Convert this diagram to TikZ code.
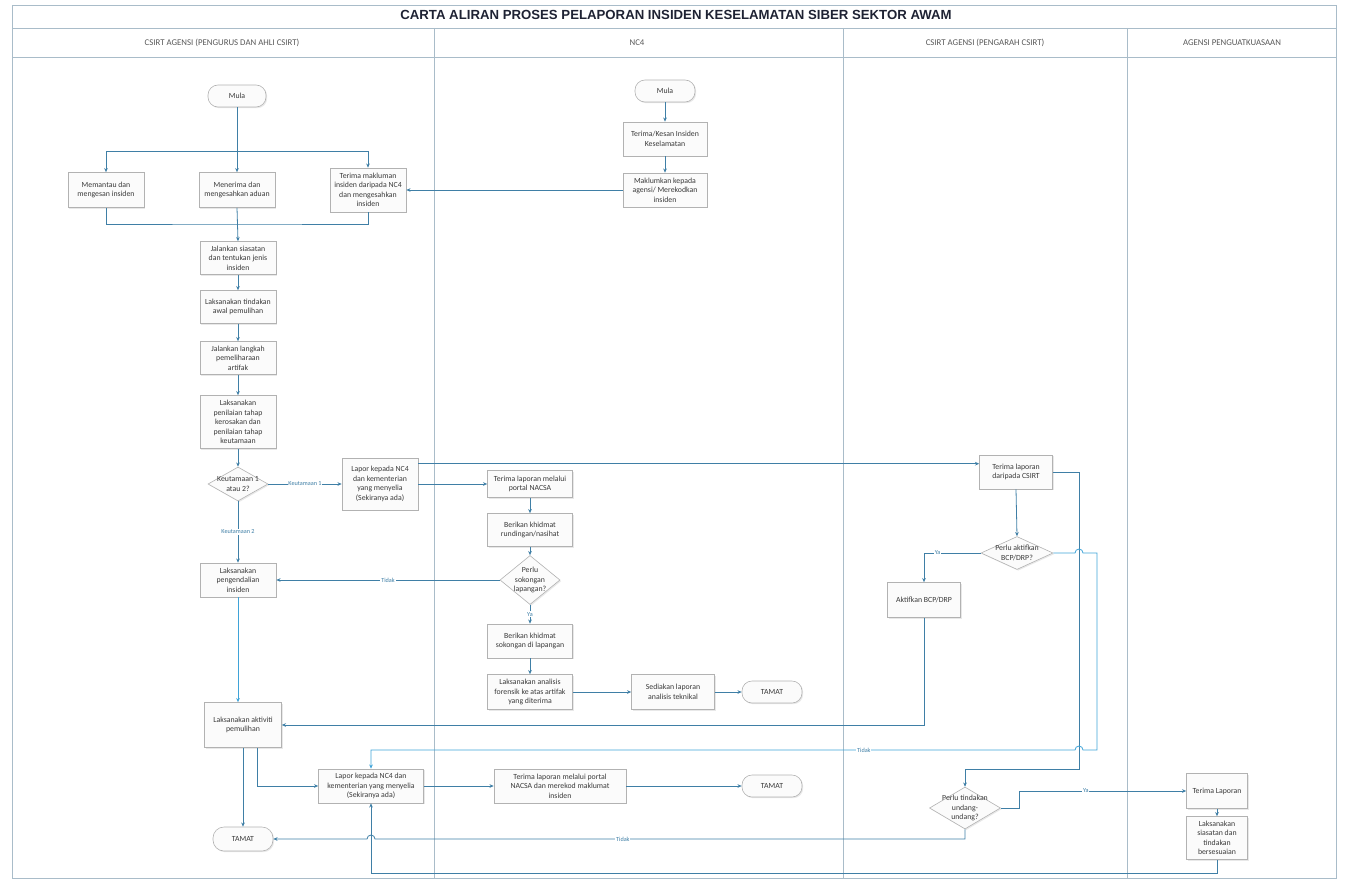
\documentclass[tikz,border=0pt]{standalone}
\usepackage{fontspec}
\setmainfont{Carlito}
\setsansfont{Carlito}
\newfontfamily\titlefont{Liberation Sans}
\usepackage{xcolor}
\definecolor{flow}{HTML}{3F7FA6}
\definecolor{flowcyan}{HTML}{3FA3D8}
\definecolor{boxline}{HTML}{B2B2B2}
\definecolor{boxfill}{HTML}{FBFBFB}
\definecolor{lane}{HTML}{A9BCC9}
\definecolor{ink}{HTML}{3A3A3A}
\definecolor{titleink}{HTML}{1E2233}
\usetikzlibrary{shapes.geometric, arrows.meta, positioning, calc, shadows}

\begin{document}
\begin{tikzpicture}[
    x=1pt, y=-1pt,
    font=\sffamily\fontsize{7.8}{9.4}\selectfont,
    >={Stealth[length=4.2pt, width=3.6pt]},
    text=ink,
    box/.style={draw=boxline, fill=boxfill, align=center, inner sep=1pt, line width=0.6pt, drop shadow={opacity=0.18, shadow xshift=1.2pt, shadow yshift=-1.2pt}},
    term/.style={box, rounded corners=10pt},
    dec/.style={diamond, draw=boxline, fill=boxfill, inner sep=0pt, line width=0.6pt, drop shadow={opacity=0.18, shadow xshift=1.2pt, shadow yshift=-1.2pt}},
    dectext/.style={align=center, inner sep=0pt},
    flowline/.style={draw=flow, line width=0.8pt},
    tag/.style={font=\sffamily\fontsize{6.2}{7}\selectfont, text=flow, fill=white, inner sep=0.8pt},
    lanehead/.style={font=\sffamily\fontsize{8.8}{10}\selectfont, text=ink!85},
]
\useasboundingbox (0,0) rectangle (1346,883);

\draw[lane, line width=0.6pt] (12,5) rectangle (1336,878);
\draw[lane, line width=0.6pt] (12,28) -- (1336,28);
\draw[lane, line width=0.6pt] (12,57) -- (1336,57);
\draw[lane, line width=0.6pt] (434,28) -- (434,878);
\draw[lane, line width=0.6pt] (843,28) -- (843,878);
\draw[lane, line width=0.6pt] (1127,28) -- (1127,878);

\node[font=\titlefont\bfseries\fontsize{13.2}{15}\selectfont, text=titleink] (title) at (676,15) {CARTA ALIRAN PROSES PELAPORAN INSIDEN KESELAMATAN SIBER SEKTOR AWAM};
\node[lanehead] (heada) at (222,43) {CSIRT AGENSI (PENGURUS DAN AHLI CSIRT)};
\node[lanehead] (headb) at (637,43) {NC4};
\node[lanehead] (headc) at (985,43) {CSIRT AGENSI (PENGARAH CSIRT)};
\node[lanehead] (headd) at (1232,43) {AGENSI PENGUATKUASAAN};

\node[term, minimum width=58pt, minimum height=22pt] (mulaa) at (237,96) {Mula};
\node[box, minimum width=76pt, minimum height=35pt] (memantau) at (106,190) {Memantau dan\\mengesan insiden};
\node[box, minimum width=76pt, minimum height=35pt] (menerima) at (237,190) {Menerima dan\\mengesahkan aduan};
\node[box, minimum width=76pt, minimum height=44pt] (terimamak) at (368,190) {Terima makluman\\insiden daripada NC4\\dan mengesahkan\\insiden};
\coordinate (split) at (237,151);
\coordinate (join) at (237,224);
\node[box, minimum width=76pt, minimum height=33pt] (siasat) at (238,258) {Jalankan siasatan\\dan tentukan jenis\\insiden};
\node[box, minimum width=76pt, minimum height=33pt] (awal) at (238,307) {Laksanakan tindakan\\awal pemulihan};
\node[box, minimum width=76pt, minimum height=33pt] (artifak) at (238,358) {Jalankan langkah\\pemeliharaan\\artifak};
\node[box, minimum width=76pt, minimum height=53pt] (nilai) at (238,422) {Laksanakan\\penilaian tahap\\kerosakan dan\\penilaian tahap\\keutamaan};
\node[dec, minimum width=60pt, minimum height=34pt, label={[dectext]center:Keutamaan 1\\atau 2?}] (keutamaan) at (238,484) {};
\node[box, minimum width=76pt, minimum height=52pt] (lapora) at (380,484) {Lapor kepada NC4\\dan kementerian\\yang menyelia\\(Sekiranya ada)};
\node[box, minimum width=76pt, minimum height=34pt] (kendali) at (238,580) {Laksanakan\\pengendalian\\insiden};
\node[box, minimum width=77pt, minimum height=45pt] (aktiviti) at (243,725) {Laksanakan aktiviti\\pemulihan};
\node[box, minimum width=105pt, minimum height=34pt] (laporb) at (371,786) {Lapor kepada NC4 dan\\kementerian yang menyelia\\(Sekiranya ada)};
\node[term, minimum width=60pt, minimum height=24pt, rounded corners=11pt] (tamata) at (243,839) {TAMAT};

\node[term, minimum width=60pt, minimum height=22pt] (mulab) at (665,91) {Mula};
\node[box, minimum width=84pt, minimum height=34pt] (kesan) at (665,139) {Terima/Kesan Insiden\\Keselamatan};
\node[box, minimum width=84pt, minimum height=34pt] (makluman) at (665,190) {Maklumkan kepada\\agensi/ Merekodkan\\insiden};
\node[box, minimum width=85pt, minimum height=27pt] (portal) at (530,484) {Terima laporan melalui\\portal NACSA};
\node[box, minimum width=85pt, minimum height=33pt] (nasihat) at (530,530) {Berikan khidmat\\rundingan/nasihat};
\node[dec, minimum width=60pt, minimum height=49pt, label={[dectext]center:Perlu\\sokongan\\lapangan?}] (sokongan) at (530,580) {};
\node[box, minimum width=85pt, minimum height=34pt] (lapangan) at (530,641) {Berikan khidmat\\sokongan di lapangan};
\node[box, minimum width=85pt, minimum height=35pt] (forensik) at (530,692) {Laksanakan analisis\\forensik ke atas artifak\\yang diterima};
\node[box, minimum width=83pt, minimum height=35pt] (teknikal) at (673,692) {Sediakan laporan\\analisis teknikal};
\node[term, minimum width=60pt, minimum height=22pt] (tamatb) at (772,692) {TAMAT};
\node[box, minimum width=132pt, minimum height=34pt] (rekod) at (560,786) {Terima laporan  melalui portal\\NACSA dan merekod maklumat\\insiden};
\node[term, minimum width=60pt, minimum height=22pt] (tamatc) at (772,786) {TAMAT};

\node[box, minimum width=73pt, minimum height=34pt] (csirt) at (1016,472) {Terima laporan\\daripada CSIRT};
\node[dec, minimum width=72pt, minimum height=33pt, label={[dectext]center:Perlu aktifkan\\BCP/DRP?}] (bcp) at (1017,553) {};
\node[box, minimum width=73pt, minimum height=35pt] (aktifkan) at (924,600) {Aktifkan BCP/DRP};
\node[dec, minimum width=71pt, minimum height=42pt, label={[dectext]center:Perlu tindakan\\undang-\\undang?}] (undang) at (965,808) {};

\node[box, minimum width=61pt, minimum height=35pt] (terimalap) at (1217,791) {Terima Laporan};
\node[box, minimum width=61pt, minimum height=43pt] (siasatan) at (1217,838) {Laksanakan\\siasatan dan\\tindakan\\bersesuaian};

\draw[flowline, ->] (mulaa.south) -- (menerima.north);
\draw[flowline] (memantau.north |- split) -- (terimamak.north |- split);
\draw[flowline, ->] (memantau.north |- split) -- (memantau.north);
\draw[flowline, ->] (terimamak.north |- split) -- (terimamak.north);
\draw[flowline] (memantau.south) |- (join) -| (terimamak.south);
\draw[flowline, ->] (menerima.south) -- (siasat.north);
\draw[flowline, ->] (siasat.south) -- (awal.north);
\draw[flowline, ->] (awal.south) -- (artifak.north);
\draw[flowline, ->] (artifak.south) -- (nilai.north);
\draw[flowline, ->] (nilai.south) -- (keutamaan.north);
\draw[flowline, ->] (keutamaan.east) -- node[tag]{Keutamaan 1} (lapora.west);
\draw[flowline, ->] (keutamaan.south) -- node[tag]{Keutamaan 2} (kendali.north);
\draw[flowline, ->, draw=flowcyan] (kendali.south) -- (kendali.south |- aktiviti.north);
\draw[flowline, ->] (aktiviti.south) -- (tamata.north);
\draw[flowline, ->] ([xshift=14pt]aktiviti.south) |- (laporb.west);

\draw[flowline, ->] (mulab.south) -- (kesan.north);
\draw[flowline, ->] (kesan.south) -- (makluman.north);
\draw[flowline, ->] (makluman.west) -- (terimamak.east);

\coordinate (laporout) at ([yshift=-6pt]lapora.north east);
\draw[flowline, ->] (laporout) -- (laporout -| csirt.west);
\draw[flowline, ->] (lapora.east) -- (portal.west);
\draw[flowline, ->] (portal.south) -- (nasihat.north);
\draw[flowline, ->] (nasihat.south) -- (sokongan.north);
\draw[flowline, ->] (sokongan.west) -- node[tag]{Tidak} (kendali.east);
\draw[flowline, ->] (sokongan.south) -- node[tag]{Ya} (lapangan.north);
\draw[flowline, ->] (lapangan.south) -- (forensik.north);
\draw[flowline, ->] (forensik.east) -- (teknikal.west);
\draw[flowline, ->] (teknikal.east) -- (tamatb.west);
\draw[flowline, ->] (laporb.east) -- (rekod.west);
\draw[flowline, ->] (rekod.east) -- (tamatc.west);

\draw[flowline, ->] (csirt.south) -- (bcp.north);
\draw[flowline, ->] (bcp.west) -| node[tag, pos=0.38]{Ya} (aktifkan.north);
\draw[flowline, ->] (aktifkan.south) |- (aktiviti.east);
\draw[flowline, ->, line width=0.6pt] (csirt.east) -| (1079,769) -| (undang.north);
\draw[flowline, ->, draw=flowcyan] (bcp.east) -- (1075,553) arc[start angle=180, end angle=0, radius=4pt] -- (1097,553) -- (1097,750) -- (1083,750) arc[start angle=0, end angle=180, radius=4pt] -- node[tag, pos=0.3]{Tidak} (laporb.north |- 0,750) -- (laporb.north);
\draw[flowline, ->] (undang.east) -- (1019,808) |- node[tag, pos=0.7]{Ya} (terimalap.west);
\draw[flowline, ->] (undang.south) -- (965,839) -- node[tag, pos=0.58]{Tidak} (375,839) arc[start angle=0, end angle=180, radius=4pt] -- (tamata.east);
\draw[flowline, ->] (terimalap.south) -- (siasatan.north);
\draw[flowline, ->] (siasatan.south) -- (siasatan.south |- 0,873) -| (laporb.south);
\end{tikzpicture}
\end{document}
